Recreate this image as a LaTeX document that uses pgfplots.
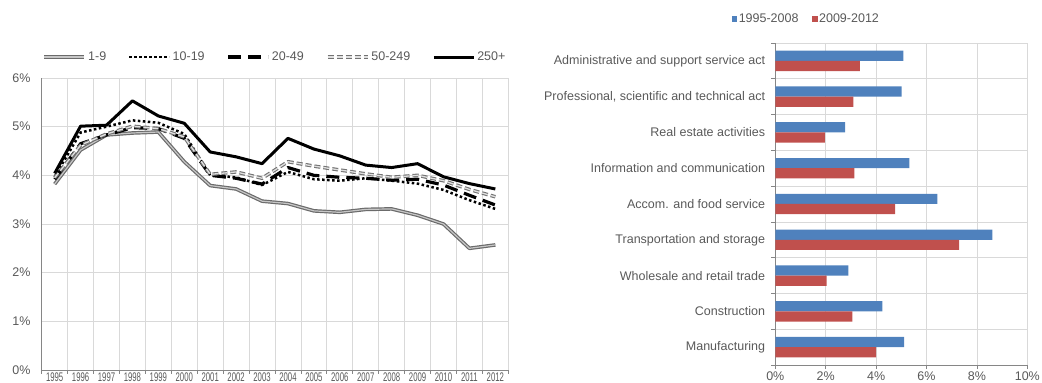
\documentclass[border=0pt]{standalone}
\usepackage{fontspec}
\setmainfont{Liberation Sans}
\usepackage{graphicx}
\usepackage{pgfplots}
\usepackage{pgfplotstable}
\pgfplotsset{compat=1.18}
\definecolor{txt}{HTML}{595959}
\definecolor{gridc}{HTML}{D9D9D9}
\definecolor{axc}{HTML}{868686}
\definecolor{bblue}{HTML}{4F81BD}
\definecolor{bred}{HTML}{C0504D}
\newcommand\lf{\fontsize{12.5bp}{14bp}\selectfont}
\newcommand\yl[1]{\scalebox{0.62}[1]{#1}}

\pgfplotstableread{
x s1 s2 s3 s4 s5
0 3.82 3.97 3.92 3.95 4.04
1 4.52 4.88 4.65 4.62 5.01
2 4.83 5.00 4.83 4.85 5.03
3 4.87 5.13 4.98 5.01 5.53
4 4.89 5.08 4.96 4.96 5.22
5 4.28 4.85 4.76 4.79 5.07
6 3.79 4.00 4.00 4.02 4.48
7 3.72 3.96 3.94 4.07 4.38
8 3.47 3.80 3.82 3.94 4.24
9 3.42 4.07 4.16 4.28 4.76
10 3.27 3.92 4.00 4.19 4.54
11 3.24 3.89 3.96 4.11 4.40
12 3.30 3.94 3.94 4.03 4.21
13 3.31 3.89 3.90 3.96 4.16
14 3.18 3.83 3.92 4.00 4.24
15 3.00 3.70 3.80 3.89 3.97
16 2.50 3.49 3.59 3.71 3.83
17 2.57 3.31 3.39 3.56 3.72
}\lines

\pgfplotstableread{
y blue red
0 5.11 4.00
1 4.25 3.06
2 2.90 2.04
3 8.61 7.29
4 6.43 4.75
5 5.32 3.14
6 2.77 1.97
7 5.01 3.10
8 5.08 3.36
}\bars

\begin{document}
\begin{tikzpicture}
% ---------------- left: line chart ----------------
\begin{axis}[
  at={(41.7bp,13bp)}, anchor=south west,
  scale only axis, width=466.6bp, height=292bp,
  xmin=-0.5, xmax=17.5, ymin=0, ymax=6,
  axis lines*=left,
  axis line style={draw=axc, line width=0.8bp},
  xtick={0,...,17},
  xticklabels={\yl{1995},\yl{1996},\yl{1997},\yl{1998},\yl{1999},\yl{2000},\yl{2001},\yl{2002},\yl{2003},\yl{2004},\yl{2005},\yl{2006},\yl{2007},\yl{2008},\yl{2009},\yl{2010},\yl{2011},\yl{2012}},
  minor xtick={-0.5,0.5,...,17.5},
  ytick={0,...,6},
  yticklabels={0\%,1\%,2\%,3\%,4\%,5\%,6\%},
  xminorgrids=true, ymajorgrids=true, xmajorgrids=false,
  grid style={draw=gridc, line width=0.7bp},
  minor grid style={draw=gridc, line width=0.7bp},
  major tick length=0bp, minor tick length=4bp, tick align=outside,
  minor x tick style={draw=axc, line width=0.7bp},
  major x tick style={draw=none}, ytick style={draw=none},
  tick label style={font=\lf, text=txt, inner sep=0pt},
  xticklabel style={yshift=-3bp},
  yticklabel style={xshift=-11bp},
  legend style={at={(0.5,1)}, anchor=center, yshift=21bp, draw=none, fill=none,
    font=\lf, text=txt, legend columns=5,
    /tikz/every even column/.append style={column sep=20bp},
    nodes={inner sep=2bp}},
  legend image code/.code={\draw[#1] (0bp,0bp) -- (40bp,0bp);},
  line join=round,
]
\addplot[draw=black!58, line width=1.2bp, double=black!22, double distance=1.2bp] table[x=x,y=s1] {\lines};
\addlegendentry{1-9}
\addplot[draw=black, line width=2.5bp, dash pattern=on 2.5bp off 2.5bp] table[x=x,y=s2] {\lines};
\addlegendentry{10-19}
\addplot[draw=black, line width=3.2bp, dash pattern=on 13bp off 7bp] table[x=x,y=s3] {\lines};
\addlegendentry{20-49}
\addplot[draw=black!55, line width=1.1bp, double=black!12, double distance=1.3bp, dash pattern=on 6bp off 3bp] table[x=x,y=s4] {\lines};
\addlegendentry{50-249}
\addplot[draw=black, line width=3bp] table[x=x,y=s5] {\lines};
\addlegendentry{250+}
\end{axis}

% ---------------- right: bar chart ----------------
\begin{axis}[
  at={(775.3bp,18bp)}, anchor=south west,
  scale only axis, width=252bp, height=322bp,
  xbar,
  xmin=0, xmax=10, ymin=-0.5, ymax=8.5,
  axis lines*=left,
  axis line style={draw=axc, line width=0.8bp},
  xtick={0,2,...,10},
  xticklabels={0\%,2\%,4\%,6\%,8\%,10\%},
  ytick={0,...,8},
  yticklabels={Manufacturing,Construction,Wholesale and retail trade,Transportation and storage,Accom. and food service,Information and communication,Real estate activities,{Professional, scientific and technical act},Administrative and support service act},
  minor ytick={-0.5,0.5,...,8.5},
  xmajorgrids=true, yminorgrids=true, ymajorgrids=false,
  grid style={draw=gridc, line width=0.7bp},
  minor grid style={draw=gridc, line width=0.7bp},
  major tick length=4bp, minor tick length=4bp, tick align=outside,
  major x tick style={draw=axc, line width=0.7bp},
  major y tick style={draw=none},
  minor y tick style={draw=axc, line width=0.7bp},
  tick label style={font=\lf, text=txt, inner sep=0pt},
  xticklabel style={yshift=-2.5bp},
  yticklabel style={xshift=-6bp},
  bar width=10.2bp,
  legend style={at={(0.122,1)}, anchor=center, yshift=24bp, draw=none, fill=none,
    font=\lf, text=txt, legend columns=2,
    /tikz/every even column/.append style={column sep=12bp},
    nodes={inner sep=1.5bp}},
  legend image code/.code={\fill[#1] (0bp,-2.8bp) rectangle (5.6bp,2.8bp);},
]
\addplot[fill=bblue, draw=none, bar shift=5.1bp] table[x=blue,y=y] {\bars};
\addlegendentry{1995-2008}
\addplot[fill=bred, draw=none, bar shift=-5.1bp] table[x=red,y=y] {\bars};
\addlegendentry{2009-2012}
\end{axis}

\pgfresetboundingbox
\useasboundingbox (0,0) rectangle (1042bp,383bp);
\end{tikzpicture}
\end{document}
